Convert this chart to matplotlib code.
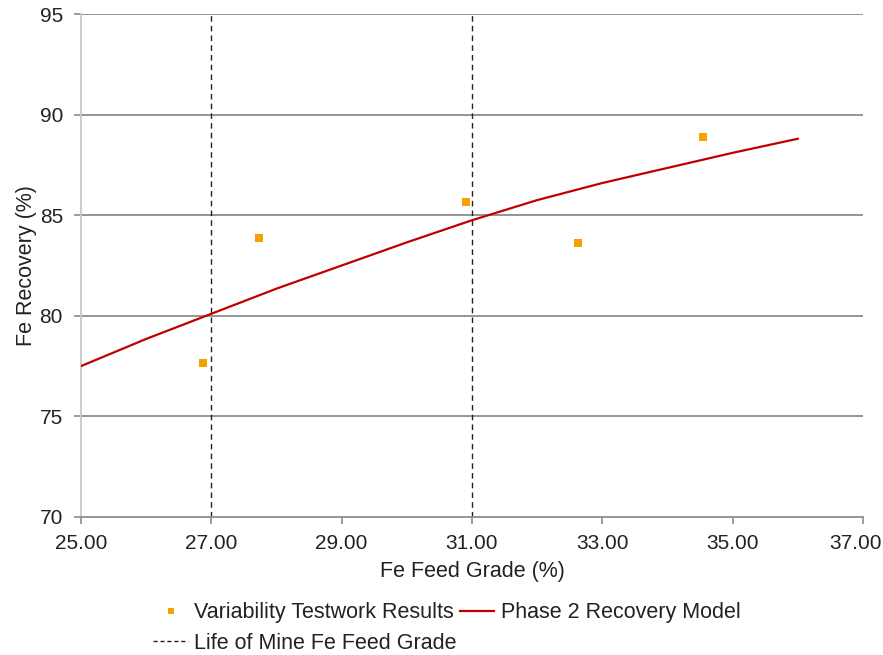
import matplotlib
matplotlib.use("Agg")
import matplotlib.pyplot as plt
import matplotlib.transforms as mtransforms
from matplotlib.lines import Line2D

plt.rcParams['font.family'] = ['Liberation Sans', 'DejaVu Sans']

# Data
test_grade = [26.87, 27.73, 30.91, 32.63, 34.54]
test_recovery = [77.63, 83.87, 85.67, 83.62, 88.91]

model_grade = [25, 26, 27, 28, 29, 30, 31, 32, 33, 34, 35, 36]
model_recovery = [77.5, 78.85, 80.1, 81.35, 82.5, 83.65, 84.75, 85.75, 86.6, 87.35, 88.1, 88.8]

lom_grade = [27.0, 31.0]

xticks = [25, 27, 29, 31, 33, 35, 37]
yticks = [70, 75, 80, 85, 90, 95]

fig = plt.figure(figsize=(8.83, 6.55), dpi=100)
ax = fig.add_axes([81/883, 1-517/655, (863-81)/883, (517-14)/655])

grid_c = '#8c8c8c'
for y in yticks[1:]:
    ax.axhline(y, color=grid_c, lw=1.3, zorder=1)

for xv in lom_grade:
    ax.axvline(xv, color='#222222', lw=1.0, ls=(0, (4, 3)), zorder=2)

ax.plot(model_grade, model_recovery, color='#C00000', lw=1.6, zorder=3)
ax.scatter(test_grade, test_recovery, marker='s', s=40, color='#F5A100', zorder=4, linewidths=0)

ax.set_xlim(25, 37)
ax.set_ylim(70, 95)
ax.set_xticks(xticks)
ax.set_xticklabels([f"{v:.2f}" for v in xticks])
ax.set_yticks(yticks)
ax.set_yticklabels([str(v) for v in yticks])

for s in ['top', 'right']:
    ax.spines[s].set_visible(False)
ax.spines['left'].set_color('#c8c8c8')
ax.spines['left'].set_linewidth(1.3)
ax.spines['bottom'].set_color(grid_c)
ax.spines['bottom'].set_linewidth(1.3)
ax.tick_params(axis='both', direction='out', length=5, width=1.2, color=grid_c,
               labelsize=15, labelcolor='#222222')
ax.tick_params(axis='x', pad=7)
ax.tick_params(axis='y', pad=8)

# shift the last x tick label slightly left so it stays inside the figure
last_lbl = ax.get_xticklabels()[-1]
offset = mtransforms.ScaledTranslation(-8/100, 0, fig.dpi_scale_trans)
last_lbl.set_transform(last_lbl.get_transform() + offset)

ax.set_xlabel('Fe Feed Grade (%)', fontsize=15.5, color='#222222', labelpad=6)
ax.set_ylabel('Fe Recovery (%)', fontsize=15.5, color='#222222', labelpad=2)

h_scatter = Line2D([], [], marker='s', ls='none', color='#F5A100', markersize=5, markeredgewidth=0)
h_dash = Line2D([], [], color='#222222', lw=1.0, ls=(0, (3, 2)))
h_line = Line2D([], [], color='#C00000', lw=1.6)
fig.legend([h_scatter, h_dash, h_line],
           ['Variability Testwork Results', 'Life of Mine Fe Feed Grade', 'Phase 2 Recovery Model'],
           ncol=2, loc='center', bbox_to_anchor=(447/883, 1-628/655), frameon=False,
           fontsize=15.5, handlelength=1.6, handletextpad=0.3, columnspacing=0.15,
           labelspacing=0.45, labelcolor='#222222', borderpad=0.1)

fig.savefig('out.png', dpi=100)
